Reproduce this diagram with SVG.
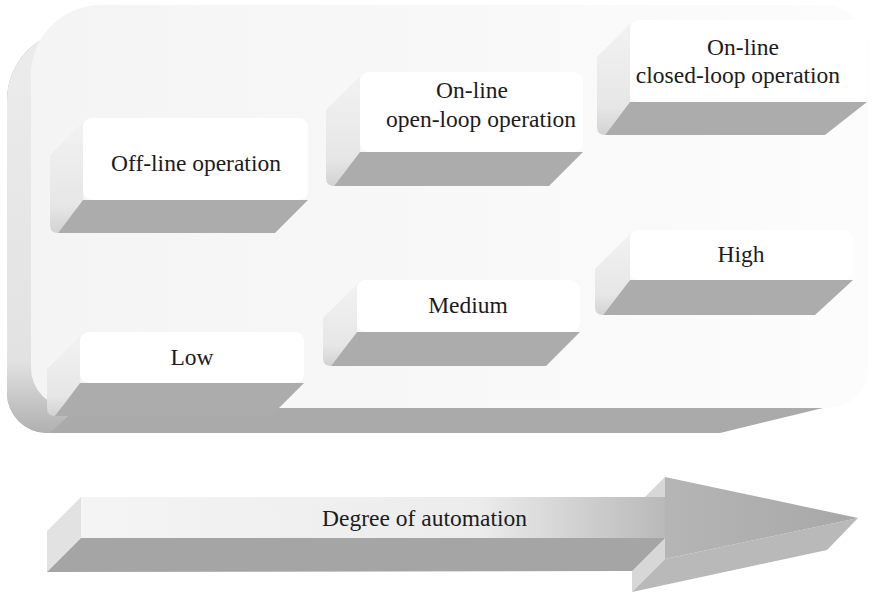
<svg xmlns="http://www.w3.org/2000/svg" width="873" height="593" viewBox="0 0 873 593">
<defs>
<style>
text{font-family:"Liberation Serif","Times New Roman",serif;font-size:23.5px;fill:#1c1c1c;text-anchor:middle}
.front{fill:#ffffff}
.side{fill:url(#sideG)}
.bottom{fill:#acacac}
</style>
<linearGradient id="panelG" x1="0" y1="0" x2="1" y2="0">
<stop offset="0" stop-color="#f4f4f4"/>
<stop offset="1" stop-color="#fcfcfc"/>
</linearGradient>
<linearGradient id="panelLeft" x1="0" y1="0" x2="0" y2="1">
<stop offset="0" stop-color="#ececec"/>
<stop offset="0.82" stop-color="#e2e2e2"/>
<stop offset="1" stop-color="#b0b0b0"/>
</linearGradient>
<linearGradient id="sideG" x1="0" y1="0" x2="0" y2="1">
<stop offset="0" stop-color="#f2f2f2"/>
<stop offset="0.75" stop-color="#e6e6e6"/>
<stop offset="1" stop-color="#d2d2d2"/>
</linearGradient>
<linearGradient id="bodyG" gradientUnits="userSpaceOnUse" x1="81" y1="0" x2="665" y2="0">
<stop offset="0" stop-color="#f4f4f4"/>
<stop offset="0.68" stop-color="#ececec"/>
<stop offset="1" stop-color="#b9b9b9"/>
</linearGradient>
<linearGradient id="headG" gradientUnits="userSpaceOnUse" x1="665" y1="0" x2="858" y2="0">
<stop offset="0" stop-color="#b5b5b5"/>
<stop offset="1" stop-color="#a8a8a8"/>
</linearGradient>
</defs>

<g id="panel">
<path d="M7,100 A70,70 0 0 1 77,30 L823,30 L823,408 L720,433 L47,433 A40,40 0 0 1 7,393 Z" fill="#aaaaaa"/>
<path d="M7,100 A70,70 0 0 1 77,30 L77,408 L50,433 L47,433 A40,40 0 0 1 7,393 Z" fill="url(#panelLeft)"/>
<path d="M31,75 A70,70 0 0 1 101,5 L823,5 A45,45 0 0 1 868,50 L868,368 A40,40 0 0 1 828,408 L71,408 A40,40 0 0 1 31,368 Z" fill="url(#panelG)"/>
</g>

<g id="node-offline">
<path class="side" d="M83,122 L50,155 L50,225 Q50,233 58,233 L83,200 Z"/>
<path class="bottom" d="M83,200 L308,200 L275,233 L58,233 Z"/>
<rect class="front" x="83" y="118" width="225" height="82" rx="9"/>
<text x="196" y="171">Off-line operation</text>
</g>

<g id="node-low">
<path class="side" d="M80,336 L47,369 L47,408 Q47,416 55,416 L80,383 Z"/>
<path class="bottom" d="M80,383 L304,383 L271,416 L55,416 Z"/>
<rect class="front" x="80" y="332" width="224" height="51" rx="9"/>
<text x="192" y="365">Low</text>
</g>

<g id="node-openloop">
<path class="side" d="M360,76 L326,110 L326,178 Q326,186 334,186 L360,152 Z"/>
<path class="bottom" d="M360,152 L583,152 L549,186 L334,186 Z"/>
<rect class="front" x="360" y="72" width="223" height="80" rx="9"/>
<text x="472" y="98">On-line</text>
<text x="481" y="127">open-loop operation</text>
</g>

<g id="node-medium">
<path class="side" d="M357,284 L323,318 L323,358 Q323,366 331,366 L357,332 Z"/>
<path class="bottom" d="M357,332 L580,332 L546,366 L331,366 Z"/>
<rect class="front" x="357" y="280" width="223" height="52" rx="9"/>
<text x="468" y="313">Medium</text>
</g>

<g id="node-closedloop">
<path class="side" d="M630,24 L597,57 L597,127 Q597,135 605,135 L630,102 Z"/>
<path class="bottom" d="M630,102 L867,102 L825,135 L605,135 Z"/>
<rect class="front" x="630" y="20" width="237" height="82" rx="9"/>
<text x="743" y="55">On-line</text>
<text x="738" y="83">closed-loop operation</text>
</g>

<g id="node-high">
<path class="side" d="M630,234 L595,269 L595,307 Q595,315 603,315 L630,280 Z"/>
<path class="bottom" d="M630,280 L853,280 L815,315 L603,315 Z"/>
<rect class="front" x="630" y="230" width="223" height="50" rx="9"/>
<text x="741" y="262">High</text>
</g>

<g id="connectors">
<g id="arrow">
<polygon points="665,477 632,510 632,592 665,559" fill="#d7d7d7"/>
<polygon points="665,559 858,518 827,550 632,592" fill="#b9b9b9"/>
<polygon points="665,477 858,518 665,559" fill="url(#headG)"/>
<polygon points="81,497 81,538 47,572 47,531" fill="#e2e2e2"/>
<polygon points="81,538 665,538 632,571 47,572" fill="#a5a5a5"/>
<rect x="81" y="497" width="584" height="41" fill="url(#bodyG)"/>
<text x="424.5" y="526">Degree of automation</text>
</g>
</g>
</svg>
